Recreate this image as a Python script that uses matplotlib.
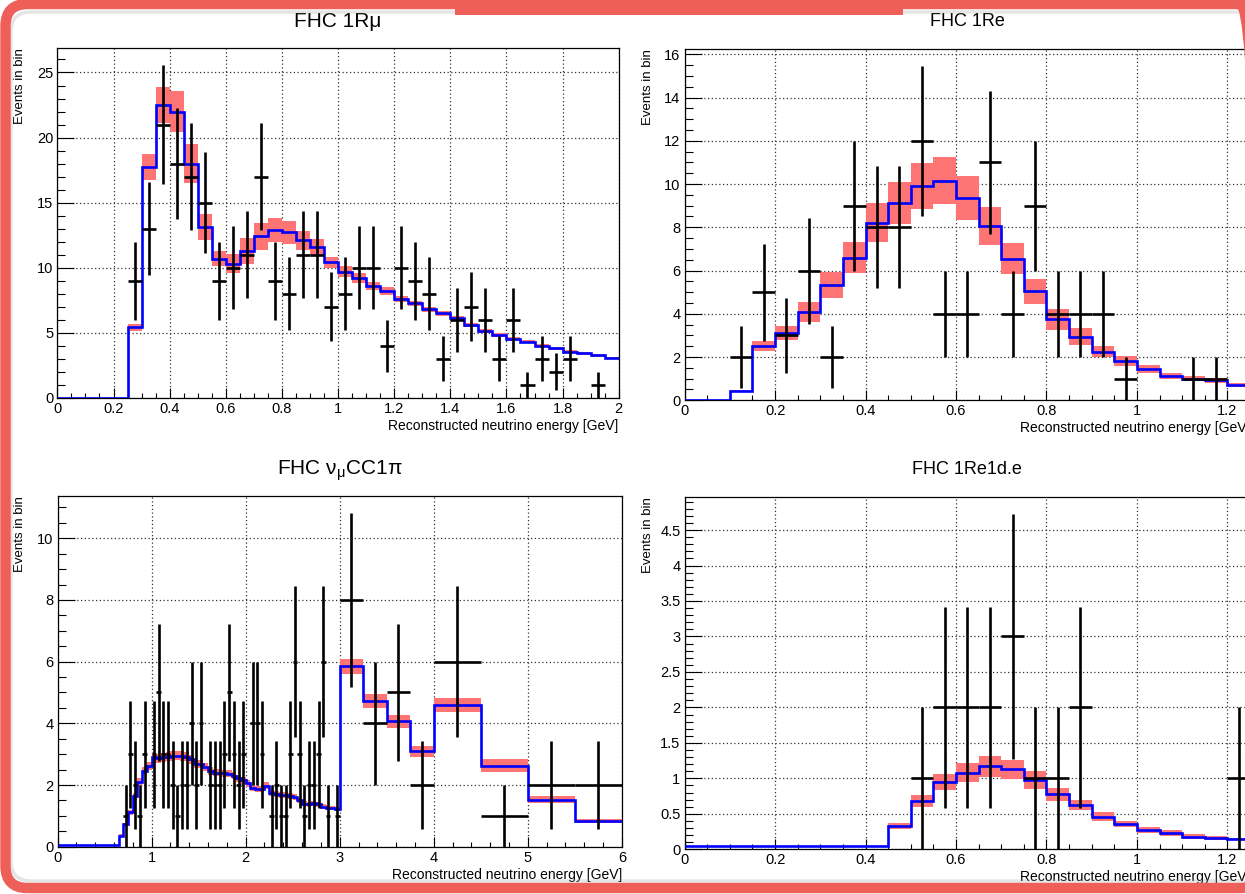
import numpy as np
import matplotlib
matplotlib.use("Agg")
import matplotlib.pyplot as plt
from matplotlib.ticker import MultipleLocator, FuncFormatter
from matplotlib.patches import FancyBboxPatch, Rectangle
from matplotlib.transforms import IdentityTransform

plt.rcParams["font.family"] = ["Liberation Sans", "DejaVu Sans"]
plt.rcParams["mathtext.fontset"] = "custom"
plt.rcParams["mathtext.rm"] = "Liberation Sans"
plt.rcParams["mathtext.it"] = "Liberation Sans"
plt.rcParams["mathtext.default"] = "regular"

# FHC 1Rmu : 0.05 GeV bins, 0 - 2 GeV
rmu_edges = np.round(np.arange(0, 2.0001, 0.05), 3)
rmu_mc = [0, 0, 0, 0, 0, 5.4, 17.7, 22.5, 22.0, 18.0,
          13.1, 10.7, 10.3, 11.3, 12.4, 12.9, 12.7, 12.1, 11.6, 10.4,
          9.7, 9.2, 8.6, 8.2, 7.6, 7.25, 6.8, 6.5, 6.1, 5.6,
          5.1, 4.8, 4.5, 4.3, 4.0, 3.8, 3.55, 3.4, 3.25, 3.05]
rmu_err = [0, 0, 0, 0, 0, 0.3, 1.0, 1.4, 1.6, 1.5,
           1.0, 0.6, 0.75, 1.0, 1.05, 0.95, 0.85, 0.75, 0.6, 0.45,
           0.4, 0.35, 0.3, 0.3, 0.25, 0.22, 0.2, 0.2, 0.18, 0.17,
           0.15, 0.15, 0.13, 0.12, 0.12, 0.11, 0.1, 0.1, 0.1, 0.1]
rmu_data = [0, 0, 0, 0, 0, 9, 13, 21, 18, 17,
            15, 9, 10, 11, 17, 9, 8, 11, 11, 7,
            8, 10, 10, 4, 10, 9, 8, 3, 6, 7,
            6, 3, 6, 1, 3, 2, 3, 0, 1, 0]

# FHC 1Re : 0.05 GeV bins, visible 0 - 1.25 GeV
re_edges = np.round(np.arange(0, 1.2501, 0.05), 3)
re_mc = [0, 0, 0.43, 2.5, 3.1, 4.07, 5.33, 6.6, 8.2, 9.13,
         9.9, 10.16, 9.35, 8.05, 6.55, 5.05, 3.75, 2.95, 2.25, 1.82,
         1.45, 1.12, 0.99, 0.92, 0.72]
re_err = [0, 0, 0.06, 0.24, 0.33, 0.46, 0.6, 0.73, 0.9, 0.97,
          1.07, 1.08, 1.0, 0.88, 0.73, 0.58, 0.48, 0.38, 0.27, 0.22,
          0.18, 0.14, 0.12, 0.1, 0.09]
re_data = [0, 0, 2, 5, 3, 6, 2, 9, 8, 8,
           12, 4, 4, 11, 4, 9, 4, 4, 4, 1,
           0, 0, 1, 1, 0]

# FHC numu CC1pi : 0.05 GeV bins up to 3 GeV, wider bins above
pi_edges = np.concatenate([np.round(np.arange(0, 3.0001, 0.05), 3),
                           [3.25, 3.5, 3.75, 4.0, 4.5, 5.0, 5.5, 6.0]])
pi_mc = [0.04, 0.04, 0.04, 0.04, 0.04, 0.04, 0.04, 0.04, 0.04, 0.04,
         0.04, 0.04, 0.04, 0.36, 0.72, 1.12, 1.63, 2.1, 2.45, 2.62,
         2.9, 2.86, 2.9, 2.92, 2.94, 2.95, 2.94, 2.92, 2.83, 2.67,
         2.68, 2.58, 2.45, 2.4, 2.4, 2.38, 2.37, 2.3, 2.22, 2.15,
         2.05, 1.9, 1.88, 1.86, 1.98, 1.74, 1.7, 1.67, 1.68, 1.64,
         1.62, 1.5, 1.4, 1.38, 1.41, 1.37, 1.3, 1.27, 1.25, 1.22,
         5.85, 4.73, 4.07, 3.09, 4.6, 2.62, 1.53, 0.84]
pi_err = [0, 0, 0, 0, 0, 0, 0, 0, 0, 0,
          0, 0, 0, 0.04, 0.06, 0.08, 0.1, 0.12, 0.13, 0.14,
          0.15, 0.15, 0.15, 0.15, 0.15, 0.15, 0.15, 0.15, 0.14, 0.13,
          0.13, 0.13, 0.12, 0.12, 0.12, 0.12, 0.12, 0.11, 0.11, 0.11,
          0.1, 0.1, 0.1, 0.1, 0.12, 0.09, 0.09, 0.09, 0.09, 0.09,
          0.09, 0.08, 0.08, 0.08, 0.08, 0.08, 0.07, 0.07, 0.07, 0.07,
          0.25, 0.22, 0.21, 0.17, 0.22, 0.21, 0.12, 0.07]
pi_data = [0, 0, 0, 0, 0, 0, 0, 0, 0, 0,
           0, 0, 0, 0, 1, 3, 2, 1, 3, 0,
           3, 5, 3, 3, 2, 1, 2, 2, 4, 2,
           4, 0, 2, 2, 2, 3, 5, 3, 2, 3,
           0, 4, 4, 3, 0, 1, 2, 1, 1, 3,
           6, 3, 1, 2, 2, 3, 6, 1, 0, 1,
           8, 4, 5, 2, 6, 1, 2, 2]

# FHC 1Re1d.e : 0.05 GeV bins, visible 0 - 1.25 GeV
d_edges = np.round(np.arange(0, 1.2501, 0.05), 3)
d_mc = [0.05, 0.05, 0.05, 0.05, 0.05, 0.05, 0.05, 0.05, 0.05, 0.33,
        0.68, 0.95, 1.08, 1.17, 1.13, 0.98, 0.775, 0.63, 0.46, 0.36,
        0.27, 0.225, 0.18, 0.16, 0.145]
d_err = [0, 0, 0, 0, 0, 0, 0, 0, 0, 0.045,
         0.085, 0.115, 0.135, 0.145, 0.135, 0.125, 0.095, 0.07, 0.065, 0.045,
         0.04, 0.04, 0.04, 0.033, 0.02]
d_data = [0, 0, 0, 0, 0, 0, 0, 0, 0, 0,
          1, 2, 2, 2, 3, 1, 1, 2, 0, 0,
          0, 0, 0, 0, 1]

W, H = 1245, 894
fig = plt.figure(figsize=(W / 100, H / 100), dpi=100)
fig.patch.set_facecolor("white")

band_col = "#ff7474"
fmt = FuncFormatter(lambda v, p: "%g" % round(v, 3))


def panel(px, edges, mc, err, data, xmax, ymax, xt, yt, title, tsize, tbase):
    # px = left, top, right, bottom in image pixels
    l, t, r, b = px
    ax = fig.add_axes([l / W, 1 - b / H, (r - l) / W, (b - t) / H])
    edges = np.asarray(edges, float)
    mc = np.asarray(mc, float)
    err = np.asarray(err, float)
    data = np.asarray(data, float)
    wid = np.diff(edges)
    cen = edges[:-1] + wid / 2
    ax.bar(edges[:-1], 2 * err, width=wid, bottom=mc - err, align="edge",
           color=band_col, linewidth=0, zorder=2)
    ax.stairs(mc, edges, baseline=None, color="#0000ff", linewidth=1.9, zorder=3)
    m = data > 0
    ax.errorbar(cen[m], data[m], xerr=wid[m] / 2, yerr=np.sqrt(data[m]),
                fmt="none", ecolor="black", elinewidth=1.9, capsize=0, zorder=4)
    ax.set_xlim(0, xmax)
    ax.set_ylim(0, ymax)
    ax.xaxis.set_major_locator(MultipleLocator(xt[0]))
    ax.xaxis.set_minor_locator(MultipleLocator(xt[1]))
    ax.yaxis.set_major_locator(MultipleLocator(yt[0]))
    ax.yaxis.set_minor_locator(MultipleLocator(yt[1]))
    ax.xaxis.set_major_formatter(fmt)
    ax.yaxis.set_major_formatter(fmt)
    ax.set_axisbelow(True)
    ax.grid(True, which="major", linestyle=(0, (1, 2)), color="#333333", linewidth=0.9)
    ax.tick_params(axis="y", which="major", direction="in", length=12, width=0.8,
                   right=False, labelsize=10.5, pad=3)
    ax.tick_params(axis="y", which="minor", direction="in", length=6, width=0.8, right=False)
    ax.tick_params(axis="x", which="major", direction="in", length=7, width=0.8,
                   top=False, labelsize=10.5, pad=3)
    ax.tick_params(axis="x", which="minor", direction="in", length=3.5, width=0.8, top=False)
    for s in ax.spines.values():
        s.set_linewidth(0.9)
    ax.set_xlabel("Reconstructed neutrino energy [GeV]", loc="right", fontsize=10, labelpad=2)
    ax.set_ylabel("Events in bin", loc="top", fontsize=9.5)
    ax.yaxis.set_label_coords(-31 / (r - l), 1)
    fig.text(((l + r) / 2) / W, 1 - tbase / H, title, ha="center", va="baseline", fontsize=tsize)
    return ax


panel((57.4, 48.3, 618.7, 397.7), rmu_edges, rmu_mc, rmu_err, rmu_data, 2.0, 26.86,
      (0.2, 0.05), (5, 1), "FHC 1Rμ", 15, 27)
panel((684.6, 49.3, 1250, 400.3), re_edges, re_mc, re_err, re_data, 1.25, 16.23,
      (0.2, 0.05), (2, 0.5), "FHC 1Re", 13, 26)
panel((57.5, 496, 621.9, 846.7), pi_edges, pi_mc, pi_err, pi_data, 6.0, 11.37,
      (1, 0.2), (2, 0.5), r"FHC $\nu_{\mu}$CC1$\pi$", 15, 475)
panel((684.6, 496.7, 1250, 849.3), d_edges, d_mc, d_err, d_data, 1.25, 4.97,
      (0.2, 0.05), (0.5, 0.1), "FHC 1Re1d.e", 13, 474)

# slide frame (right side runs past the image edge)
red = "#ee5f5a"
shadow = FancyBboxPatch((11, 13), 1260, 869, boxstyle="round,pad=0,rounding_size=20",
                        transform=IdentityTransform(), fill=False, edgecolor="#999999",
                        linewidth=2.5, alpha=0.25, zorder=9)
fig.add_artist(shadow)
frame = FancyBboxPatch((5.5, 6), 1257, 884, boxstyle="round,pad=0,rounding_size=22",
                       transform=IdentityTransform(), fill=False, edgecolor=red,
                       linewidth=7.5, zorder=10)
fig.add_artist(frame)
fig.add_artist(Rectangle((455, H - 15), 448, 15, transform=IdentityTransform(),
                         facecolor=red, edgecolor="none", zorder=10))

fig.savefig("out.png", dpi=100)
